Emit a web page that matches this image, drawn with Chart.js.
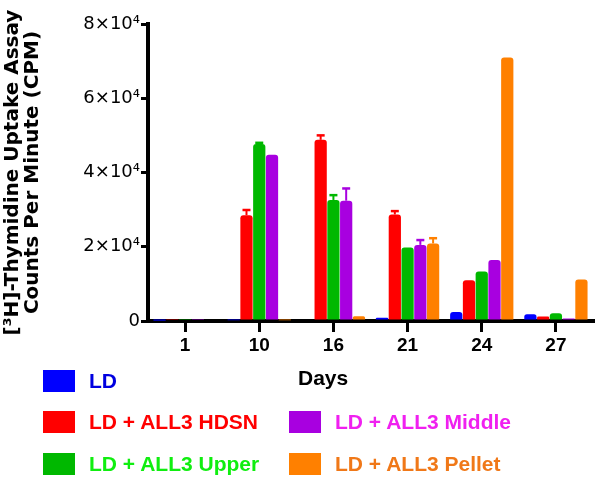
<!DOCTYPE html>
<html>
<head>
<meta charset="utf-8">
<script src="https://cdn.jsdelivr.net/npm/chart.js@4/dist/chart.umd.min.js"></script>
<style>
  html, body { margin: 0; padding: 0; background: #fff; }
  #wrap { position: relative; width: 600px; height: 482px; }
  canvas { position: absolute; left: 0; top: 0; }
  .lg { position: absolute; font-family: "Liberation Sans", Arial, sans-serif; font-weight: bold; font-size: 21px; line-height: 22px; white-space: nowrap; }
  .sw { position: absolute; width: 32px; height: 22px; }
</style>
</head>
<body>
<div id="wrap">
  <canvas id="c" width="600" height="482"></canvas>
  <div id="legend"></div>
  <div class="lg" style="left:298px; top:367px; color:#000;">Days</div>
</div>
<script>
// ---- data ----
const days = ['1', '10', '16', '21', '24', '27'];
const seriesNames = ['LD', 'LD + ALL3 HDSN', 'LD + ALL3 Upper', 'LD + ALL3 Middle', 'LD + ALL3 Pellet'];
const ldValues     = [100, 200, 0, 900, 2400, 1800];
const hdsnValues   = [300, 28500, 48800, 28700, 11000, 1200];
const upperValues  = [300, 47700, 32600, 19800, 13300, 2100];
const middleValues = [300, 44800, 32400, 20500, 16400, 700];
const pelletValues = [0, 200, 1300, 20900, 71000, 11200];
const ldErr     = [0, 0, 0, 0, 0, 0];
const hdsnErr   = [0, 1400, 1200, 900, 0, 0];
const upperErr  = [0, 300, 1300, 0, 0, 0];
const middleErr = [0, 0, 3300, 1300, 0, 0];
const pelletErr = [0, 0, 0, 1400, 0, 0];
const yTickValues = [0, 20000, 40000, 60000, 80000];
const yTickLabels = ['0', '2×10⁴', '4×10⁴', '6×10⁴', '8×10⁴'];

// ---- styles ----
const barColors  = ['#0000ff', '#ff0000', '#00b800', '#a800e0', '#ff8000'];
const textColors = ['#0000e0', '#ff0000', '#10ee10', '#f020f0', '#f07818'];
const FONT = '"Liberation Sans", Arial, sans-serif';
const WIDEFONT = '"DejaVu Sans", sans-serif';

const allValues = [ldValues, hdsnValues, upperValues, middleValues, pelletValues];
const allErrs = [ldErr, hdsnErr, upperErr, middleErr, pelletErr];

const datasets = seriesNames.map((name, i) => ({
  label: name,
  data: allValues[i],
  errors: allErrs[i],
  backgroundColor: barColors[i],
  borderWidth: 0,
  borderRadius: { topLeft: 3, topRight: 3, bottomLeft: 0, bottomRight: 0 },
  borderSkipped: 'bottom',
  categoryPercentage: 0.86,
  barPercentage: 0.96
}));

const errorBars = {
  id: 'errorBars',
  afterDatasetsDraw(chart) {
    const ctx = chart.ctx;
    const y = chart.scales.y;
    chart.data.datasets.forEach((ds, di) => {
      const meta = chart.getDatasetMeta(di);
      meta.data.forEach((bar, j) => {
        const e = ds.errors[j];
        if (!e) return;
        const top = y.getPixelForValue(ds.data[j] + e);
        const base = y.getPixelForValue(ds.data[j]);
        ctx.save();
        ctx.strokeStyle = ds.backgroundColor;
        ctx.lineWidth = 2;
        ctx.beginPath();
        ctx.moveTo(bar.x, base);
        ctx.lineTo(bar.x, top);
        ctx.stroke();
        ctx.lineWidth = 2.5;
        ctx.beginPath();
        ctx.moveTo(bar.x - 4, top);
        ctx.lineTo(bar.x + 4, top);
        ctx.stroke();
        ctx.restore();
      });
    });
  }
};

new Chart(document.getElementById('c'), {
  type: 'bar',
  data: { labels: days, datasets },
  plugins: [errorBars],
  options: {
    responsive: false,
    animation: false,
    layout: { padding: { top: 24, right: 7, left: 0, bottom: 0 } },
    plugins: { legend: { display: false }, tooltip: { enabled: false } },
    scales: {
      x: {
        offset: true,
        grid: { offset: false, drawOnChartArea: false, drawTicks: true, color: '#000', lineWidth: 3, tickLength: 11 },
        border: { display: true, color: '#000', width: 4 },
        ticks: { color: '#000', font: { family: FONT, size: 19, weight: 'bold' }, padding: 2 },
        afterFit(s) { s.height = 161; }
      },
      y: {
        min: 0, max: 80000,
        afterBuildTicks(s) { s.ticks = yTickValues.map(v => ({ value: v })); },
        grid: { drawOnChartArea: false, drawTicks: true, color: '#000', lineWidth: 3, tickLength: 7 },
        border: { display: true, color: '#000', width: 4 },
        ticks: {
          color: '#000', font: { family: WIDEFONT, size: 18 }, padding: 1,
          callback(v) { const k = yTickValues.indexOf(v); return k >= 0 ? yTickLabels[k] : ''; }
        },
        title: {
          display: true,
          text: ['[³H]-Thymidine Uptake Assay', 'Counts Per Minute (CPM)'],
          color: '#000',
          font: { family: WIDEFONT, size: 20, weight: 'bold', lineHeight: 1.0 },
          padding: { top: 3, bottom: 0 }
        },
        afterFit(s) { s.width = 148; }
      }
    }
  }
});

// ---- legend (HTML) ----
const legendPos = [[43, 370], [43, 411], [43, 453], [289, 411], [289, 453]];
const lg = document.getElementById('legend');
seriesNames.forEach((name, i) => {
  const [x, y] = legendPos[i];
  const sw = document.createElement('div');
  sw.className = 'sw';
  sw.style.left = x + 'px'; sw.style.top = y + 'px';
  sw.style.background = barColors[i];
  lg.appendChild(sw);
  const t = document.createElement('div');
  t.className = 'lg';
  t.style.left = (x + 46) + 'px'; t.style.top = y + 'px';
  t.style.color = textColors[i];
  t.textContent = name;
  lg.appendChild(t);
});
</script>
</body>
</html>
